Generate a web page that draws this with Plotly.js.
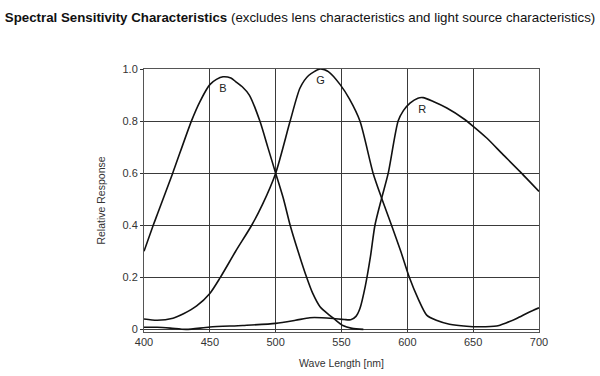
<!DOCTYPE html>
<html>
<head>
<meta charset="utf-8">
<script src="https://cdn.plot.ly/plotly-3.0.1.min.js"></script>
<style>html,body{margin:0;padding:0;background:#fff;}#chart{width:600px;height:376px;}</style>
</head>
<body>
<div id="chart"></div>
<script>
// Wavelength samples (nm) and relative responses
const bWave = [400,407,410,421.8,436,442.5,450,455,460,466,470,475,480,488,494,500,506,511,517,523.5,528,533.7,540,544,551,558,566.6];
const bResp = [0.30,0.40,0.44,0.60,0.80,0.875,0.94,0.96,0.97,0.965,0.95,0.93,0.90,0.80,0.70,0.60,0.50,0.40,0.30,0.20,0.14,0.087,0.058,0.042,0.015,0.004,0.0];

const gWave = [400,410,422,430,440,450,458,469.6,481.8,490,500,511,518.5,525,533.7,540,549,556,564,574,580.5,588,595,601.5,608,614.7,622,632,645,655,667.8,675,683,692,700];
const gResp = [0.04,0.035,0.043,0.06,0.09,0.138,0.20,0.30,0.40,0.48,0.60,0.80,0.927,0.975,1.0,0.99,0.94,0.885,0.80,0.60,0.504,0.40,0.30,0.20,0.12,0.055,0.035,0.02,0.012,0.01,0.013,0.025,0.042,0.065,0.083];

const rWave = [400,410,420,432,450,475,500,515,526,535,544,552,557,561,564,568,572,575.4,580.5,585.5,593,597,602,608,612,619.7,630,642.5,650,660.3,672,685.6,700];
const rResp = [0.008,0.008,0.005,0.0,0.009,0.015,0.023,0.035,0.045,0.045,0.042,0.038,0.037,0.05,0.08,0.164,0.28,0.40,0.504,0.60,0.80,0.84,0.869,0.888,0.89,0.875,0.85,0.81,0.78,0.735,0.675,0.606,0.53];

const labelNames = ['B','G','R'];
const labelWave = [460,534,611.4];
const labelResp = [0.923,0.952,0.843];

const xTicks = [400,450,500,550,600,650,700];
const yTicks = [0,0.2,0.4,0.6,0.8,1.0];
const yTickText = ['0','0.2','0.4','0.6','0.8','1.0'];

const lineStyle = {color:'#111111', width:1.6, shape:'spline', smoothing:0.7};

const traces = [
  {x:bWave, y:bResp, mode:'lines', line:lineStyle, hoverinfo:'skip', name:'B'},
  {x:gWave, y:gResp, mode:'lines', line:lineStyle, hoverinfo:'skip', name:'G'},
  {x:rWave, y:rResp, mode:'lines', line:lineStyle, hoverinfo:'skip', name:'R'},
  {x:labelWave, y:labelResp, mode:'text', text:labelNames, textposition:'middle center',
   textfont:{family:'Liberation Sans, Arial, sans-serif', size:11, color:'#222'}, hoverinfo:'skip'}
];

const font = 'Liberation Sans, Arial, sans-serif';
const layout = {
  width:600, height:376,
  margin:{l:144, r:61, t:69, b:44, pad:0},
  paper_bgcolor:'#ffffff', plot_bgcolor:'#ffffff',
  showlegend:false,
  title:{
    text:'<b>Spectral Sensitivity Characteristics</b> (excludes lens characteristics and light source characteristics)',
    font:{family:font, size:13.3, color:'#111'},
    x:0.008, xanchor:'left', xref:'container',
    y:1-17/376, yanchor:'middle', yref:'container'
  },
  xaxis:{
    range:[400,700], tickvals:xTicks, ticktext:xTicks.map(String),
    showgrid:true, gridcolor:'#3a3a3a', gridwidth:1,
    showline:true, linecolor:'#555', linewidth:1, mirror:true,
    zeroline:false, ticks:'', ticklen:0,
    tickfont:{family:font, size:11, color:'#333'},
    title:{text:'Wave Length [nm]', font:{family:font, size:10.5, color:'#333'}, standoff:12}
  },
  yaxis:{
    range:[-0.01,1.0], tickvals:yTicks, ticktext:yTickText,
    showgrid:true, gridcolor:'#3a3a3a', gridwidth:1,
    showline:true, linecolor:'#555', linewidth:1, mirror:true,
    zeroline:false, ticks:'outside', ticklen:3, tickcolor:'#333',
    tickfont:{family:font, size:11, color:'#333'},
    title:{text:'Relative Response', font:{family:font, size:10.5, color:'#333'}, standoff:14}
  }
};

Plotly.newPlot('chart', traces, layout, {staticPlot:true, displayModeBar:false});
</script>
</body>
</html>
